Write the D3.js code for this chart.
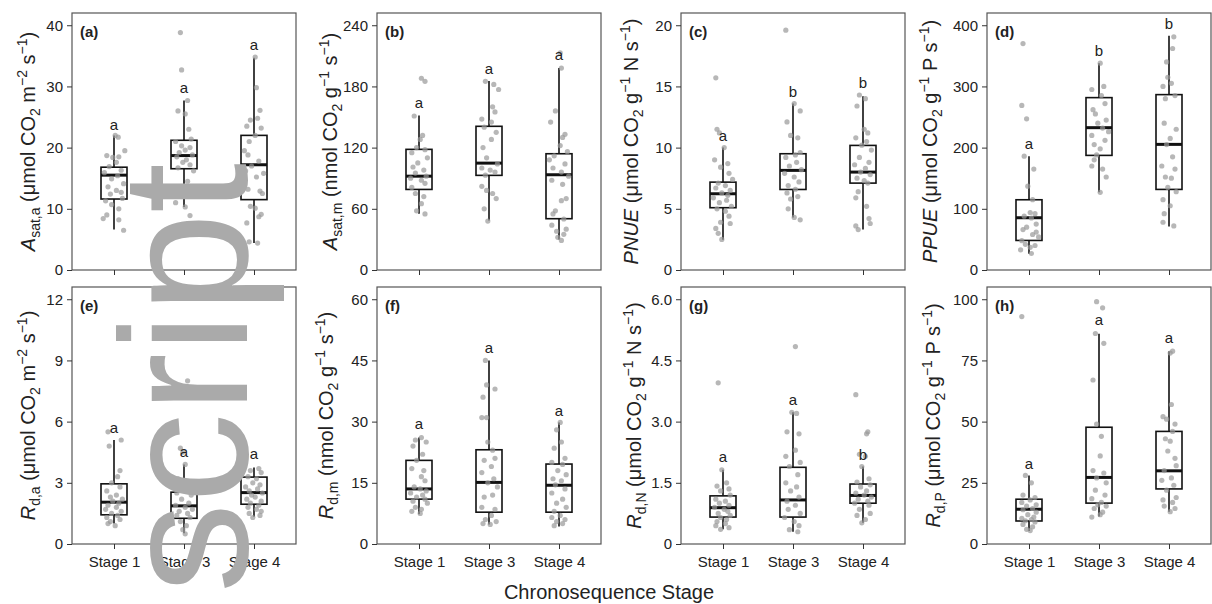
<!DOCTYPE html>
<html><head><meta charset="utf-8">
<script src="https://cdn.jsdelivr.net/npm/d3@7"></script>
<style>body{margin:0;background:#fff} text{font-family:"Liberation Sans",Arial,sans-serif;}</style>
</head><body>
<svg id="chart" width="1212" height="604"></svg>
<script>
// ---------------- DATA ----------------
const stages = ["Stage 1", "Stage 3", "Stage 4"];
const panelTags = ["(a)", "(b)", "(c)", "(d)", "(e)", "(f)", "(g)", "(h)"];
const tickValues = [
  [0, 10, 20, 30, 40], [0, 60, 120, 180, 240], [0, 5, 10, 15, 20], [0, 100, 200, 300, 400],
  [0, 3, 6, 9, 12], [0, 15, 30, 45, 60], [0, 1.5, 3, 4.5, 6], [0, 25, 50, 75, 100]
];
const tickLabels = [
  ["0", "10", "20", "30", "40"], ["0", "60", "120", "180", "240"], ["0", "5", "10", "15", "20"], ["0", "100", "200", "300", "400"],
  ["0", "3", "6", "9", "12"], ["0", "15", "30", "45", "60"], ["0", "1.5", "3.0", "4.5", "6.0"], ["0", "25", "50", "75", "100"]
];
const xTitle = "Chronosequence Stage";
// y-axis titles: [text, style]  style: n=normal, i=italic, sub, sup
const yTitles = [
  [["A","i"],["sat,a","sub"],[" (μmol CO","n"],["2","sub"],[" m","n"],["−2","sup"],[" s","n"],["−1","sup"],[")","n"]],
  [["A","i"],["sat,m","sub"],[" (nmol CO","n"],["2","sub"],[" g","n"],["−1","sup"],[" s","n"],["−1","sup"],[")","n"]],
  [["PNUE","i"],[" (μmol CO","n"],["2","sub"],[" g","n"],["−1","sup"],[" N s","n"],["−1","sup"],[")","n"]],
  [["PPUE","i"],[" (μmol CO","n"],["2","sub"],[" g","n"],["−1","sup"],[" P s","n"],["−1","sup"],[")","n"]],
  [["R","i"],["d,a","sub"],[" (μmol CO","n"],["2","sub"],[" m","n"],["−2","sup"],[" s","n"],["−1","sup"],[")","n"]],
  [["R","i"],["d,m","sub"],[" (nmol CO","n"],["2","sub"],[" g","n"],["−1","sup"],[" s","n"],["−1","sup"],[")","n"]],
  [["R","i"],["d,N","sub"],[" (μmol CO","n"],["2","sub"],[" g","n"],["−1","sup"],[" N s","n"],["−1","sup"],[")","n"]],
  [["R","i"],["d,P","sub"],[" (μmol CO","n"],["2","sub"],[" g","n"],["−1","sup"],[" P s","n"],["−1","sup"],[")","n"]]
];
// box stats per panel per stage: [whiskerLow, q1, median, q3, whiskerHigh]
const boxStats = [
  [[6.6, 11.6, 15.5, 16.8, 22.0], [10.3, 16.55, 18.7, 21.2, 27.7], [4.4, 11.5, 17.2, 22.0, 34.7]],
  [[55.2, 79, 92, 118.3, 151.6], [48.6, 92.8, 104.8, 140.9, 185.3], [30, 50.3, 93.4, 114, 198]],
  [[2.47, 5.09, 6.23, 7.18, 10.0], [4.3, 6.58, 8.14, 9.5, 13.6], [3.3, 7.1, 8.0, 10.18, 14.2]],
  [[26.5, 48.3, 85.4, 114.8, 186], [127, 187.3, 232.6, 281.7, 338], [71, 131.7, 205.3, 286.6, 383]],
  [[1.0, 1.43, 2.05, 2.95, 5.1], [0.53, 1.26, 1.87, 2.54, 3.9], [1.34, 1.95, 2.52, 3.28, 3.75]],
  [[7.3, 11.0, 13.5, 20.5, 26.1], [4.8, 7.8, 15.1, 23.1, 45.0], [4.3, 7.8, 14.4, 19.6, 29.8]],
  [[0.36, 0.66, 0.89, 1.18, 1.82], [0.3, 0.66, 1.08, 1.88, 3.23], [0.52, 1.0, 1.19, 1.47, 1.9]],
  [[5.3, 9.4, 14.2, 18.3, 28], [11.2, 16.7, 27.2, 47.7, 85.9], [13.2, 22.5, 29.9, 46, 78.8]]
];
const sigLetters = [
  ["a","a","a"], ["a","a","a"], ["a","b","b"], ["a","b","b"],
  ["a","a","a"], ["a","a","a"], ["a","a","b"], ["a","a","a"]
];
const sigHeights = [
  [23.6, 29.5, 36.6], [163, 195.8, 209.5], [10.9, 14.5, 15.2], [205, 356, 400],
  [5.65, 4.46, 4.34], [29.1, 47.9, 32.4], [2.1, 3.5, 2.15], [32.4, 91.1, 83.6]
];
// raw observations per panel per stage: [value, jitter (-1..1)]
const pointsA = [
  [[22.0,.1],[21.7,.35],[19.5,.9],[18.7,-.6],[18.5,.4],[18.4,-.1],[17.6,.2],[16.9,-.4],[16.3,.6],[15.9,-.8],[15.4,.3],[14.9,-.2],[14.1,.8],[13.6,-.5],[13.0,.2],[12.7,.6],[12.4,-.3],[11.7,.7],[11.3,-.7],[10.7,-.2],[10.0,.4],[9.0,-.6],[8.4,-.9],[8.2,.4],[6.5,.8]],
  [[38.8,-.3],[32.7,-.2],[27.7,.3],[26.0,-.5],[25.5,.1],[23.0,.4],[21.4,.6],[21.0,-.7],[20.3,-.2],[20.0,.5],[19.6,.1],[19.2,-.4],[18.8,.7],[18.5,-.6],[18.0,.2],[17.6,-.1],[17.2,.5],[16.7,-.5],[16.2,.8],[14.5,.3],[12.2,-.1],[11.0,-.7],[10.3,.1],[8.9,.5]],
  [[34.8,.1],[29.8,.2],[26.1,.5],[24.8,.3],[24.5,-.3],[23.5,-.6],[23.2,.6],[22.0,.1],[21.0,-.4],[19.5,-.8],[18.8,-.5],[17.8,.4],[17.0,-.2],[16.2,-.7],[15.8,.8],[15.2,.2],[13.2,-.5],[12.9,.5],[12.5,.7],[10.4,-.3],[10.1,.1],[9.1,.6],[8.7,.4],[7.7,-.6],[4.6,-.4],[4.4,.3]]
];
const pointsB = [
  [[188,.2],[185,.5],[151,-.4],[132,.3],[128,.1],[120,-.2],[118,.5],[115,-.6],[110,.7],[105,-.1],[101,-.5],[98,.4],[95,-.3],[92,.6],[90,-.7],[88,.2],[85,.5],[81,-.6],[75,-.3],[72,.4],[65,.2],[58,-.2],[55,.5]],
  [[185,-.3],[182,.4],[177,.8],[160,.3],[155,.5],[148,-.6],[145,.2],[140,-.4],[135,.6],[128,.2],[120,-.5],[110,-.2],[104,.7],[100,-.6],[98,.1],[96,.5],[93,-.3],[82,-.6],[78,-.2],[75,.3],[70,.6],[60,-.4],[48,-.1]],
  [[213,.1],[198,.2],[156,-.3],[145,-.7],[133,.5],[130,.3],[122,.1],[116,.7],[112,-.4],[108,-.8],[104,.5],[100,-.5],[96,.2],[92,.8],[88,-.6],[84,.3],[70,.6],[68,.2],[58,-.3],[55,-.5],[50,.4],[44,-.6],[40,.6],[38,-.2],[35,.4],[32,-.1],[29,.2]]
];
const pointsC = [
  [[15.7,-.6],[11.5,-.5],[11.2,-.3],[10.0,.1],[9.0,-.7],[8.7,.4],[8.4,-.2],[7.9,.5],[7.4,.8],[7.1,-.4],[6.9,.2],[6.7,-.6],[6.5,.6],[6.3,-.1],[6.1,.4],[5.9,-.8],[5.7,.3],[5.5,-.3],[5.2,.7],[5.0,-.5],[4.8,.2],[4.4,.5],[3.9,-.2],[3.8,.6],[3.4,-.6],[3.0,-.4],[2.5,-.1]],
  [[19.6,-.6],[13.6,.1],[13.0,.6],[12.1,-.5],[11.0,-.2],[10.8,.4],[9.6,.6],[9.4,.2],[9.2,-.6],[8.8,.3],[8.5,-.3],[8.2,.7],[7.9,-.7],[7.6,.1],[7.2,.5],[6.9,-.4],[6.6,.2],[6.3,-.5],[6.0,.4],[5.8,-.2],[5.0,-.4],[4.3,.1],[4.1,.6]],
  [[14.3,-.3],[14.0,.2],[13.4,-.5],[11.5,.1],[11.2,.4],[10.8,-.6],[10.5,.3],[10.2,-.1],[9.8,.7],[9.2,-.3],[8.8,.5],[8.6,-.7],[8.3,.2],[8.0,-.2],[7.8,.6],[7.5,-.5],[7.3,.1],[7.1,.4],[6.4,-.4],[5.9,-.6],[5.2,.3],[4.2,.5],[3.8,.6],[3.6,-.6],[3.3,-.4]]
];
const pointsD = [
  [[370,-.5],[269,-.6],[247,-.2],[186,-.4],[165,.4],[137,-.1],[115,.3],[94,.1],[92,.5],[88,-.4],[85,.2],[75,.6],[70,-.2],[66,-.5],[62,.6],[58,.3],[54,.8],[48,-.6],[42,-.3],[40,.5],[37,.1],[33,-.7],[27,.2]],
  [[338,.1],[300,.4],[295,-.6],[285,.2],[272,.5],[262,-.5],[255,-.3],[245,.6],[240,-.1],[232,.3],[226,.8],[220,-.6],[212,.5],[205,-.4],[198,.1],[188,-.2],[180,-.4],[170,-.6],[165,.3],[152,.6],[127,.1]],
  [[381,.4],[362,.3],[340,-.2],[315,-.1],[305,.2],[300,-.5],[285,.5],[280,-.3],[240,-.4],[230,.6],[215,.1],[205,-.2],[185,.3],[170,-.6],[165,.5],[152,-.3],[150,.2],[135,-.1],[128,.6],[115,-.5],[105,.1],[92,-.4],[78,-.5],[72,.4]]
];
const pointsE = [
  [[5.5,-.5],[5.1,.6],[4.8,-.4],[3.6,.5],[3.3,.3],[3.0,-.2],[2.8,.5],[2.6,-.6],[2.4,.2],[2.3,-.3],[2.2,.7],[2.1,-.1],[2.0,.4],[1.9,-.5],[1.8,.2],[1.7,-.7],[1.6,.6],[1.5,-.2],[1.4,.3],[1.3,-.6],[1.2,.5],[1.1,-.3],[1.0,-.5],[0.9,.1]],
  [[8.0,.3],[7.5,.1],[4.7,-.3],[4.5,-.1],[3.9,.1],[3.2,-.5],[2.9,.5],[2.7,.2],[2.5,-.6],[2.4,.6],[2.2,-.2],[2.0,.4],[1.9,-.7],[1.8,.1],[1.7,.7],[1.6,-.4],[1.5,.3],[1.4,-.6],[1.3,.5],[1.1,-.3],[0.9,.2],[0.7,-.1],[0.5,.1]],
  [[3.7,.4],[3.6,-.3],[3.5,.6],[3.3,-.5],[3.2,.2],[3.0,-.1],[2.9,.5],[2.8,-.7],[2.7,.3],[2.6,-.4],[2.5,.7],[2.4,-.2],[2.3,.1],[2.2,-.6],[2.1,.6],[2.0,-.3],[1.9,.4],[1.8,-.5],[1.7,.2],[1.6,.6],[1.5,-.4],[1.4,.5],[1.3,-.1]]
];
const pointsF = [
  [[26.1,.2],[25.5,-.3],[25,.6],[24,-.5],[22,.3],[20.5,-.2],[18.5,-.6],[18,.4],[16.5,.2],[15.5,.5],[14,-.4],[13.5,.1],[13,.6],[12.5,-.7],[12,.3],[11.5,-.2],[11,.5],[10.5,-.5],[10,.7],[9,-.3],[8.5,.2],[8,-.6],[7.5,.1]],
  [[45,-.3],[39,-.2],[38,.5],[36,-.5],[31,-.6],[31,-.2],[25,-.1],[23,.3],[21,.5],[20.5,-.4],[19,.2],[17.5,-.6],[16,.4],[15,-.1],[14,.7],[12,.3],[11.5,-.4],[9,-.6],[8.5,.5],[7,.2],[6,-.3],[5.5,.6],[5,-.5],[4.8,.1]],
  [[29.8,.1],[28,-.2],[25,.2],[23.5,-.4],[21,.5],[20,-.6],[19.5,.3],[18,-.1],[17,.6],[16,-.5],[15.5,.2],[14.5,-.3],[13.5,.5],[12.5,-.6],[11,.3],[10,-.2],[9,.6],[8,-.4],[7,.1],[6.5,-.6],[6,.5],[5.5,-.2],[5,.3],[4.5,-.4]]
];
const pointsG = [
  [[3.95,-.4],[1.82,-.1],[1.5,.3],[1.42,-.5],[1.35,.5],[1.3,-.2],[1.2,.6],[1.1,-.6],[1.05,.2],[1.0,-.3],[0.95,.5],[0.9,-.7],[0.85,.1],[0.8,.4],[0.75,-.4],[0.7,.6],[0.65,-.2],[0.6,.3],[0.55,-.5],[0.5,.2],[0.45,-.6],[0.4,.5],[0.36,-.2]],
  [[4.84,.2],[3.23,-.1],[3.2,.3],[2.75,-.5],[2.7,.5],[2.3,.2],[2.15,-.6],[2.0,.6],[1.9,-.3],[1.7,.4],[1.5,-.6],[1.4,.3],[1.3,-.2],[1.15,.5],[1.05,-.5],[0.95,.2],[0.85,-.4],[0.75,.6],[0.65,-.7],[0.55,.1],[0.45,.5],[0.35,-.3],[0.3,.4]],
  [[3.66,-.6],[2.75,.4],[2.7,.3],[2.2,-.3],[2.15,.2],[1.9,-.1],[1.6,.5],[1.52,-.5],[1.45,.6],[1.4,-.2],[1.3,.3],[1.25,-.6],[1.2,.1],[1.15,.7],[1.1,-.4],[1.05,.4],[1.0,-.7],[0.95,.5],[0.85,-.3],[0.75,.6],[0.7,-.5],[0.6,.2],[0.52,-.1]]
];
const pointsH = [
  [[92.9,-.6],[28,-.3],[25,.2],[20,-.5],[19,.5],[18,.1],[17,-.6],[16,.6],[15.5,-.2],[14.5,.3],[14,-.5],[13,.6],[12,-.1],[11,.4],[10.5,-.6],[10,.2],[9.5,-.3],[9,.5],[8,-.5],[7,.3],[6,-.2],[5.5,.1]],
  [[99,-.2],[96.5,.3],[86,-.3],[82,.4],[67,-.5],[49,-.2],[44,.2],[36,.1],[30,-.5],[29,.4],[27,-.2],[25,.6],[22,-.3],[20,.5],[18.5,-.6],[17,.2],[16,-.1],[15.5,.6],[14.5,-.4],[13,.3],[12,.1],[11,-.6]],
  [[78.8,.3],[78,.1],[57,.2],[52,-.5],[51,-.2],[49,.5],[46,.3],[43,-.3],[42,.1],[38,-.1],[35,.5],[32,.6],[30,-.4],[27,.2],[26,-.6],[24,.4],[22,-.2],[19,.6],[18,-.5],[17,.3],[15.5,-.4],[14.5,.5],[13.2,.1]]
];
const allPoints = [pointsA, pointsB, pointsC, pointsD, pointsE, pointsF, pointsG, pointsH];
const watermark = "Manuscript";

// ---------------- LAYOUT ----------------
const svg = d3.select("#chart");
svg.append("rect").attr("width", 1212).attr("height", 604).attr("fill", "#fff");
const lefts = [72, 377, 681, 987];
const panelW = 224;
const rowTops = [13, 287], rowBottoms = [270, 544];
const titleOffsets = [37, 40, 43, 50, 37, 44, 40, 47];
const boxHalf = 13, jitterW = 12;
const txt = "#222";

panelTags.forEach((tag, p) => {
  const col = p % 4, row = Math.floor(p / 4);
  const x0 = lefts[col], x1 = x0 + panelW, y0 = rowTops[row], y1 = rowBottoms[row];
  const top = tickValues[p][tickValues[p].length - 1];
  const x = d3.scalePoint().domain(stages).range([x0, x1]).padding(0.6);
  const y = d3.scaleLinear().domain([0, top * 1.05]).range([y1, y0]);
  const g = svg.append("g");

  // boxes
  stages.forEach((s, i) => {
    const [lo, q1, md, q3, hi] = boxStats[p][i];
    const cx = x(s);
    g.append("line").attr("x1", cx).attr("x2", cx).attr("y1", y(q3)).attr("y2", y(hi))
      .attr("stroke", "#111").attr("stroke-width", 1.6);
    g.append("line").attr("x1", cx).attr("x2", cx).attr("y1", y(q1)).attr("y2", y(lo))
      .attr("stroke", "#111").attr("stroke-width", 1.6);
    g.append("rect").attr("x", cx - boxHalf).attr("width", boxHalf * 2)
      .attr("y", y(q3)).attr("height", y(q1) - y(q3))
      .attr("fill", "#fff").attr("stroke", "#111").attr("stroke-width", 1.6);
    g.append("line").attr("x1", cx - boxHalf).attr("x2", cx + boxHalf).attr("y1", y(md)).attr("y2", y(md))
      .attr("stroke", "#111").attr("stroke-width", 3);
  });
  // points
  stages.forEach((s, i) => {
    g.selectAll(null).data(allPoints[p][i]).enter().append("circle")
      .attr("cx", d => x(s) + d[1] * jitterW).attr("cy", d => y(d[0])).attr("r", 2.6)
      .attr("fill", "#999").attr("fill-opacity", 0.7);
  });
  // significance letters
  stages.forEach((s, i) => {
    g.append("text").attr("x", x(s)).attr("y", y(sigHeights[p][i]) + 4)
      .attr("text-anchor", "middle").attr("font-size", 15).attr("fill", txt).text(sigLetters[p][i]);
  });
  // frame
  g.append("rect").attr("x", x0).attr("y", y0).attr("width", x1 - x0).attr("height", y1 - y0)
    .attr("fill", "none").attr("stroke", "#555").attr("stroke-width", 1.2);
  // y axis
  const ya = g.append("g").attr("transform", `translate(${x0},0)`)
    .call(d3.axisLeft(y).tickValues(tickValues[p]).tickFormat((d, k) => tickLabels[p][k]).tickSize(5).tickPadding(4));
  ya.select(".domain").remove();
  ya.selectAll("line").attr("stroke", "#333");
  ya.selectAll("text").attr("font-size", 15).attr("fill", txt).style("font-family", '"Liberation Sans",Arial,sans-serif');
  // x axis
  const xa = g.append("g").attr("transform", `translate(0,${y1})`)
    .call(d3.axisBottom(x).tickSize(5).tickPadding(7).tickFormat(row === 1 ? (d => d) : () => ""));
  xa.select(".domain").remove();
  xa.selectAll("line").attr("stroke", "#333");
  xa.selectAll("text").attr("font-size", 15).attr("fill", txt).style("font-family", '"Liberation Sans",Arial,sans-serif');
  // panel tag
  g.append("text").attr("x", x0 + 8).attr("y", y0 + 24).attr("font-size", 15).attr("font-weight", "bold")
    .attr("fill", txt).text(tag);
  // y title
  const t = g.append("text").attr("transform", `translate(${x0 - titleOffsets[p]},${(y0 + y1) / 2}) rotate(-90)`)
    .attr("text-anchor", "middle").attr("font-size", 20).attr("fill", txt);
  let shift = 0;
  yTitles[p].forEach(([str, st]) => {
    const target = st === "sub" ? 5 : st === "sup" ? -8 : 0;
    const ts = t.append("tspan").attr("dy", target - shift).text(str);
    shift = target;
    if (st === "sub" || st === "sup") ts.attr("font-size", 14);
    if (st === "i") ts.attr("font-style", "italic");
  });
});

// x title
svg.append("text").attr("x", 609).attr("y", 599).attr("text-anchor", "middle")
  .attr("font-size", 20).attr("fill", txt).text(xTitle);

// watermark
svg.append("text").attr("transform", "translate(247,163) rotate(-90)")
  .attr("text-anchor", "end").attr("font-size", 180).attr("fill", "#aaaaaa").text(watermark);
</script>
</body></html>
